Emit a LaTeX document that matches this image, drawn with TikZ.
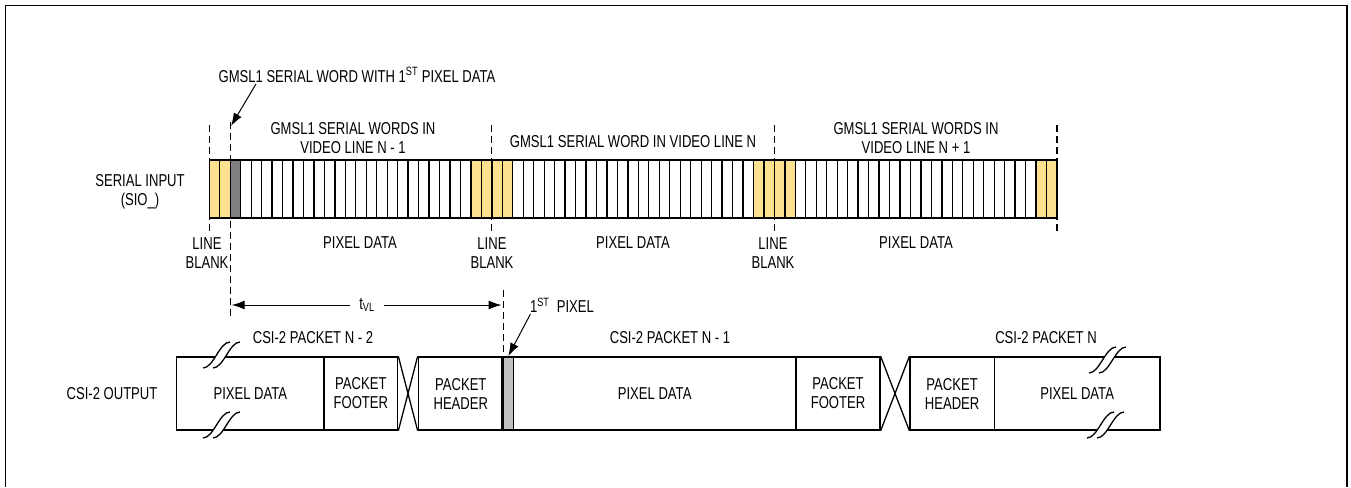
\documentclass[tikz,border=0pt]{standalone}
\usepackage{fontspec}
\setmainfont[FakeStretch=0.76]{Liberation Sans}
\usetikzlibrary{arrows.meta}
\definecolor{blankyel}{RGB}{254,225,142}
\definecolor{firstgray}{RGB}{128,128,128}
\definecolor{pixgray}{RGB}{192,192,192}

% break mark, centre at (#1,#2)
\newcommand{\brkmark}[2]{%
  \fill[white] (#1-13.5,#2+13) .. controls (#1-3,#2+13) and (#1+3,#2-13) .. (#1+13.5,#2-13) -- (#1+23.5,#2-13) .. controls (#1+13,#2-13) and (#1+7,#2+13) .. (#1-3.5,#2+13) -- cycle;
  \draw (#1-13.5,#2+13) .. controls (#1-3,#2+13) and (#1+3,#2-13) .. (#1+13.5,#2-13);
  \draw (#1-3.5,#2+13) .. controls (#1+7,#2+13) and (#1+13,#2-13) .. (#1+23.5,#2-13);
}

\begin{document}
\begin{tikzpicture}[x=1pt, y=-1pt, line width=1.3pt,
    every node/.style={font=\fontsize{17.2}{19}\selectfont, inner sep=1pt, align=center},
    guide/.style={dashed, dash pattern=on 7pt off 4pt, line width=1.1pt},
    pbox/.style={draw, minimum height=73pt, inner sep=0pt},
    tip/.style={-{Latex[length=13pt,width=9pt]}}]
    \useasboundingbox (0,0) rectangle (1351,487);

    % Frame
    \draw[line width=1.4pt] (5.5,487) -- (5.5,5.5) -- (1347,5.5) -- (1347,487);

    % Serial input words
    \fill[blankyel] (209.3,160) rectangle (230.2,218);
    \fill[firstgray] (230.2,160) rectangle (240.7,218);
    \fill[blankyel] (470.9,160) rectangle (512.8,218);
    \fill[blankyel] (753.5,160) rectangle (795.4,218);
    \fill[blankyel] (1036.0,160) rectangle (1057,218);
    \foreach \i in {1,...,80}
        \draw (209.3+\i*10.465,160) -- (209.3+\i*10.465,218);
    \draw (209.3,160) rectangle (1057,218);

    % Guide lines
    \draw[guide] (209.3,125) -- (209.3,232);
    \draw[guide] (230.2,122) -- (230.2,316);
    \draw[guide] (491.9,125) -- (491.9,232);
    \draw[guide] (774.4,125) -- (774.4,232);
    \draw[guide] (1057,125) -- (1057,232);
    \draw[guide] (503.3,290) -- (503.3,357);

    % Serial labels
    \node (serin) at (140,192) {SERIAL INPUT\\(SIO\_)};
    \node (wfirst) at (357,75) {GMSL1 SERIAL WORD WITH 1\textsuperscript{ST} PIXEL DATA};
    \coordinate (wtip) at (231,126);
    \draw[tip, line width=1pt] ([xshift=39pt]wfirst.south west) -- (wtip);
    \node (lineA) at (353,138) {GMSL1 SERIAL WORDS IN\\VIDEO LINE N - 1};
    \node (lineB) at (633,142) {GMSL1 SERIAL WORD IN VIDEO LINE N};
    \node (lineC) at (916,138) {GMSL1 SERIAL WORDS IN\\VIDEO LINE N + 1};
    \node (blankA) at (207,253) {LINE\\BLANK};
    \node (blankB) at (492,253) {LINE\\BLANK};
    \node (blankC) at (773,253) {LINE\\BLANK};
    \node (pixA) at (360,243) {PIXEL DATA};
    \node (pixB) at (633,243) {PIXEL DATA};
    \node (pixC) at (916,243) {PIXEL DATA};

    % tVL
    \node[inner sep=9pt] (tvl) at (367,305) {t\textsubscript{VL}};
    \coordinate (tvlL) at (231.7,305);
    \coordinate (tvlR) at (501.5,305);
    \draw[tip, line width=1pt] (tvl) -- (tvlL);
    \draw[tip, line width=1pt] (tvl) -- (tvlR);

    % CSI-2 output packets
    \node (csiout) at (112,394) {CSI-2 OUTPUT};
    \node[pbox, minimum width=147.3pt] (pixN2) at (250.35,393.5) {PIXEL DATA};
    \node[pbox, minimum width=73.7pt] (footN2) at (360.85,393.5) {PACKET\\FOOTER};
    \node[pbox, minimum width=85pt] (headN1) at (460.8,393.5) {PACKET\\HEADER};
    \node[pbox, minimum width=10pt, fill=pixgray] (firstpix) at (508.3,393.5) {};
    \node[pbox, minimum width=282.7pt] (pixN1) at (654.65,393.5) {PIXEL DATA};
    \node[pbox, minimum width=84pt] (footN1) at (838,393.5) {PACKET\\FOOTER};
    \node[pbox, minimum width=84.3pt] (headN) at (952.15,393.5) {PACKET\\HEADER};
    \node[pbox, minimum width=165.7pt] (pixN) at (1077.15,393.5) {PIXEL DATA};
    \draw[line width=3pt] (firstpix.north west) -- (firstpix.south west);

    % packet gaps
    \draw (footN2.north east) -- (headN1.south west);
    \draw (footN2.south east) -- (headN1.north west);
    \draw (footN1.north east) -- (headN.south west);
    \draw (footN1.south east) -- (headN.north west);

    % breaks
    \brkmark{216.5}{355}
    \brkmark{216.5}{425}
    \brkmark{1102.5}{360}
    \brkmark{1100.5}{425}

    \node (pkN2) at (313,338) {CSI-2 PACKET N - 2};
    \node (pkN1) at (670,338) {CSI-2 PACKET N - 1};
    \node (pkN) at (1046,338) {CSI-2 PACKET N};

    % 1st pixel
    \node (p1lbl) at (562,305) {1\textsuperscript{ST}\ \ PIXEL};
    \coordinate (p1tip) at (508.3,356);
    \draw[tip, line width=1pt] ([xshift=2pt]p1lbl.south west) -- (p1tip);
\end{tikzpicture}
\end{document}
